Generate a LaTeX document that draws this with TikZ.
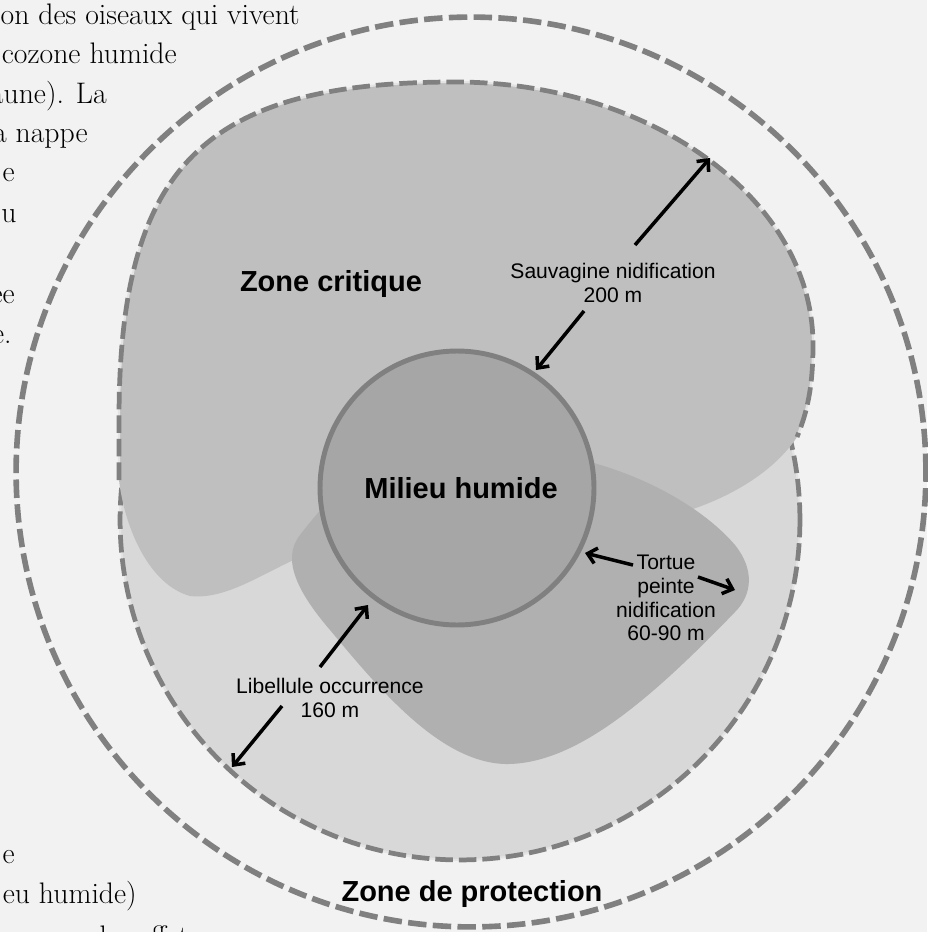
\documentclass[tikz,border=0pt]{standalone}
\usepackage{fontspec}
\newfontfamily\arialfont{Liberation Sans}
\usetikzlibrary{arrows.meta}
\definecolor{bggray}{HTML}{F2F2F2}
\definecolor{ringgray}{HTML}{D8D8D8}
\definecolor{critgray}{HTML}{BFBFBF}
\definecolor{turtgray}{HTML}{B0B0B0}
\definecolor{wetgray}{HTML}{A6A6A6}
\definecolor{dashgray}{HTML}{808080}
\definecolor{gapgray}{HTML}{E4E4E4}
\begin{document}
\begin{tikzpicture}[x=0.02cm,y=-0.02cm,
  zonedash/.style={draw=dashgray, line width=2.7pt, dash pattern=on 10pt off 3.4pt},
  outerdash/.style={draw=dashgray, line width=3.2pt, dash pattern=on 10.5pt off 3.6pt},
  gapline/.style={draw=gapgray, line width=1.2pt},
  arr/.style={-{Straight Barb[length=5pt,width=9pt]}, line width=2pt, black},
  boldlabel/.style={font=\arialfont\bfseries\fontsize{16.5}{19}\selectfont, inner sep=0pt},
  smalllabel/.style={font=\arialfont\fontsize{12}{13.5}\selectfont, align=center, inner sep=0pt},
  para/.style={font=\fontsize{16.9}{20}\selectfont, anchor=base east, inner sep=0pt}
]
% background
\fill[bggray] (0,0) rectangle (927,932);
\useasboundingbox (0,0) rectangle (927,932);

% paragraph fragments on the left
\node[para] (p1) at (300,25) {on des oiseaux qui vivent};
\node[para] (p2) at (177,64) {cozone humide};
\node[para] (p3) at (107,104) {aune). La};
\node[para] (p4) at (88,143) {a nappe};
\node[para] (p5) at (15,182) {e};
\node[para] (p6) at (17,223) {u};
\node[para] (p7) at (15,303) {ee};
\node[para] (p8) at (12,343) {e.};
\node[para] (p9) at (3,613) {.};
\node[para] (p10) at (15,863) {e};
\node[para] (p11) at (137,903) {eu humide)};
\node[para] (p12) at (200,946) {des effets};

% outer protection circle
\draw[outerdash] (471,472) circle[radius=9.1cm];

% inner ring (light)
\fill[ringgray] (460,520) circle[radius=6.8cm];
\draw[gapline] (460,520) circle[radius=6.8cm];
\draw[zonedash] (460,520) circle[radius=6.8cm];

% critical zone blob
\fill[critgray] (119,480) -- (119,420)
  .. controls (119,166) and (204,82) .. (455,82)
  .. controls (652,82) and (813,200) .. (813,345)
  .. controls (813,390) and (806,415) .. (797,437)
  .. controls (775,470) and (735,495) .. (690,510)
  -- (300,557)
  .. controls (260,575) and (225,600) .. (190,596)
  .. controls (150,585) and (125,530) .. (119,480) -- cycle;
\draw[gapline] (119,480) -- (119,420)
  .. controls (119,166) and (204,82) .. (455,82)
  .. controls (652,82) and (813,200) .. (813,345)
  .. controls (813,390) and (806,415) .. (797,437);
\draw[zonedash] (119,480) -- (119,420)
  .. controls (119,166) and (204,82) .. (455,82)
  .. controls (652,82) and (813,200) .. (813,345)
  .. controls (813,390) and (806,415) .. (797,437);

% turtle nesting blob
\fill[turtgray] (330,480) -- (560,455) -- (590,462)
  .. controls (650,478) and (705,510) .. (735,545)
  .. controls (755,570) and (752,595) .. (735,612)
  .. controls (650,700) and (575,765) .. (505,764)
  .. controls (440,762) and (380,690) .. (330,630)
  .. controls (300,595) and (280,560) .. (300,535)
  .. controls (310,522) and (320,510) .. (330,500) -- cycle;

% wetland
\node[circle, draw=dashgray, line width=2.8pt, fill=wetgray, minimum size=5.48cm, inner sep=0pt] (wet) at (457,488) {};
\node[boldlabel] (wetlabel) at (461,488) {Milieu humide};

% zone labels
\node[boldlabel] (crit) at (331,284) {Zone critique};
\node[boldlabel] (prot) at (472,894) {Zone de protection};

% distance labels
\node[smalllabel] (sauv) at (613,283) {Sauvagine nidification\\200 m};
\node[smalllabel] (lib) at (330,698) {Libellule occurrence\\160 m};
\node[smalllabel] (tort) at (666,598) {Tortue\\peinte\\nidification\\60-90 m};

% arrow end points
\coordinate (s1a) at (635,245); \coordinate (s1b) at (710,158);
\coordinate (s2a) at (584,311); \coordinate (s2b) at (536,370);
\coordinate (l1a) at (320,667); \coordinate (l1b) at (368,605);
\coordinate (l2a) at (282,706); \coordinate (l2b) at (232,767);
\coordinate (t1a) at (633,565); \coordinate (t1b) at (585,553);
\coordinate (t2a) at (698,577); \coordinate (t2b) at (735,590);

\draw[arr] (s1a) -- (s1b);
\draw[arr] (s2a) -- (s2b);
\draw[arr] (l1a) -- (l1b);
\draw[arr] (l2a) -- (l2b);
\draw[arr] (t1a) -- (t1b);
\draw[arr] (t2a) -- (t2b);
\end{tikzpicture}
\end{document}
